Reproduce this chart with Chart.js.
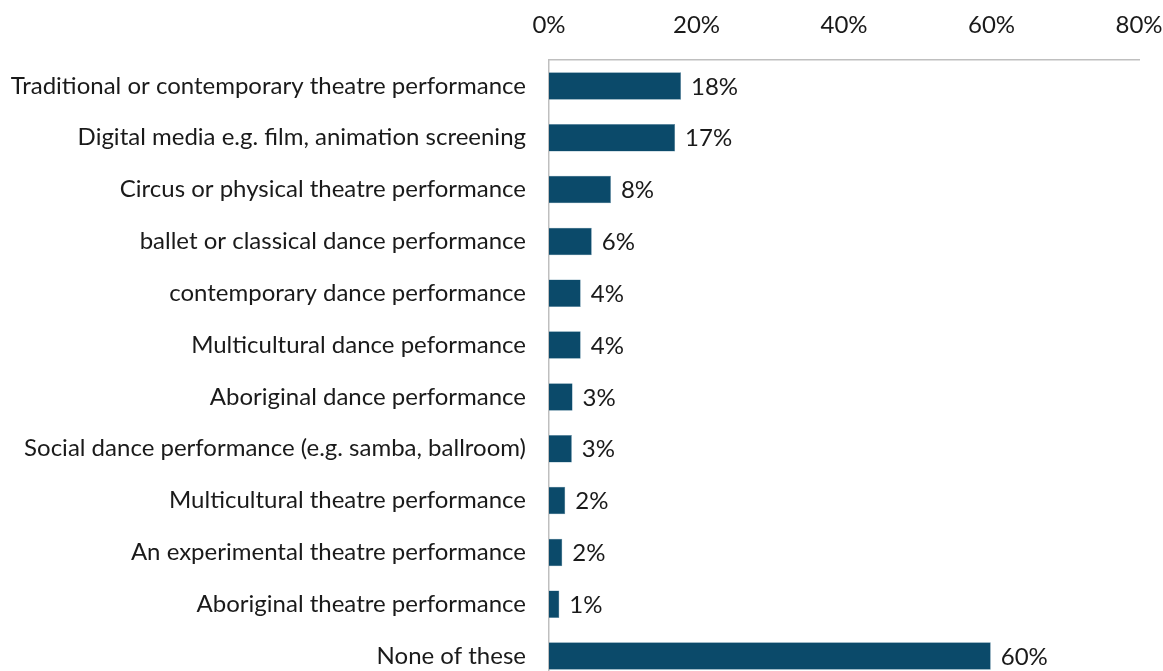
<!DOCTYPE html>
<html>
<head>
<meta charset="utf-8">
<script src="https://cdn.jsdelivr.net/npm/chart.js@4"></script>
<style>
  html, body { margin: 0; padding: 0; background: #fff; overflow: hidden; }
</style>
</head>
<body>
<canvas id="chart-1" width="1163" height="690"></canvas>
<script>
const categories = [
    'Traditional or contemporary theatre performance',
    'Digital media e.g. film, animation screening',
    'Circus or physical theatre performance',
    'ballet or classical dance performance',
    'contemporary dance performance',
    'Multicultural dance peformance',
    'Aboriginal dance performance',
    'Social dance performance (e.g. samba, ballroom)',
    'Multicultural theatre performance',
    'An experimental theatre performance',
    'Aboriginal theatre performance',
    'None of these'
];
const values = [17.9, 17.1, 8.4, 5.8, 4.3, 4.3, 3.2, 3.1, 2.2, 1.8, 1.4, 59.9];
const valueLabels = ['18%', '17%', '8%', '6%', '4%', '4%', '3%', '3%', '2%', '2%', '1%', '60%'];
const xTicks = [0, 20, 40, 60, 80];

const FONT = 'Lato';
const SIZE = 24;
const TEXT = '#1a1a1a';

Chart.defaults.font.family = FONT;
Chart.defaults.font.size = SIZE;
Chart.defaults.color = TEXT;

// puts the % text just after the end of each bar
const barLabels = {
    id: 'barLabels',
    afterDatasetsDraw(chart) {
        const ctx = chart.ctx;
        const meta = chart.getDatasetMeta(0);
        ctx.save();
        ctx.font = SIZE + 'px ' + FONT;
        ctx.fillStyle = TEXT;
        ctx.textAlign = 'left';
        ctx.textBaseline = 'middle';
        meta.data.forEach((bar, i) => {
            ctx.fillText(valueLabels[i], bar.x + 10, bar.y + 1);
        });
        ctx.restore();
    }
};

const cty = document.getElementById('chart-1').getContext('2d');

const myChart = new Chart(cty, { // eslint-disable-line
    type: 'bar',
    data: {
        labels: categories,
        datasets: [
            {
                data: values,
                backgroundColor: '#0b4a6a',
                borderColor: '#5d8aa3',
                borderWidth: { top: 0.5, bottom: 0.5, right: 0.5, left: 0 },
                barPercentage: 0.53,
                categoryPercentage: 1
            }
        ]
    },
    options: {
        indexAxis: 'y',
        responsive: false,
        animation: false,
        layout: { padding: { left: 0, right: 24, top: 0, bottom: 8 } },
        plugins: {
            legend: { display: false },
            tooltip: { enabled: false }
        },
        scales: {
            x: {
                position: 'top',
                min: 0,
                max: 80,
                afterBuildTicks: (axis) => {
                    axis.ticks = xTicks.map(v => ({ value: v }));
                },
                afterFit: (axis) => {
                    axis.height = 60;
                    axis.paddingLeft = 0;
                    axis.paddingRight = 0;
                },
                ticks: {
                    padding: 20,
                    maxRotation: 0,
                    callback: (v) => v + '%'
                },
                grid: { display: false, drawTicks: false },
                border: { display: true, color: '#bfbfbf', width: 1.5 }
            },
            y: {
                afterFit: (axis) => {
                    axis.width = 549;
                    axis.paddingTop = 0;
                    axis.paddingBottom = 0;
                },
                ticks: { padding: 23, autoSkip: false },
                grid: { display: false, drawTicks: false },
                border: { display: true, color: '#bfbfbf', width: 1.5 }
            }
        }
    },
    plugins: [barLabels]
});
</script>
</body>
</html>
